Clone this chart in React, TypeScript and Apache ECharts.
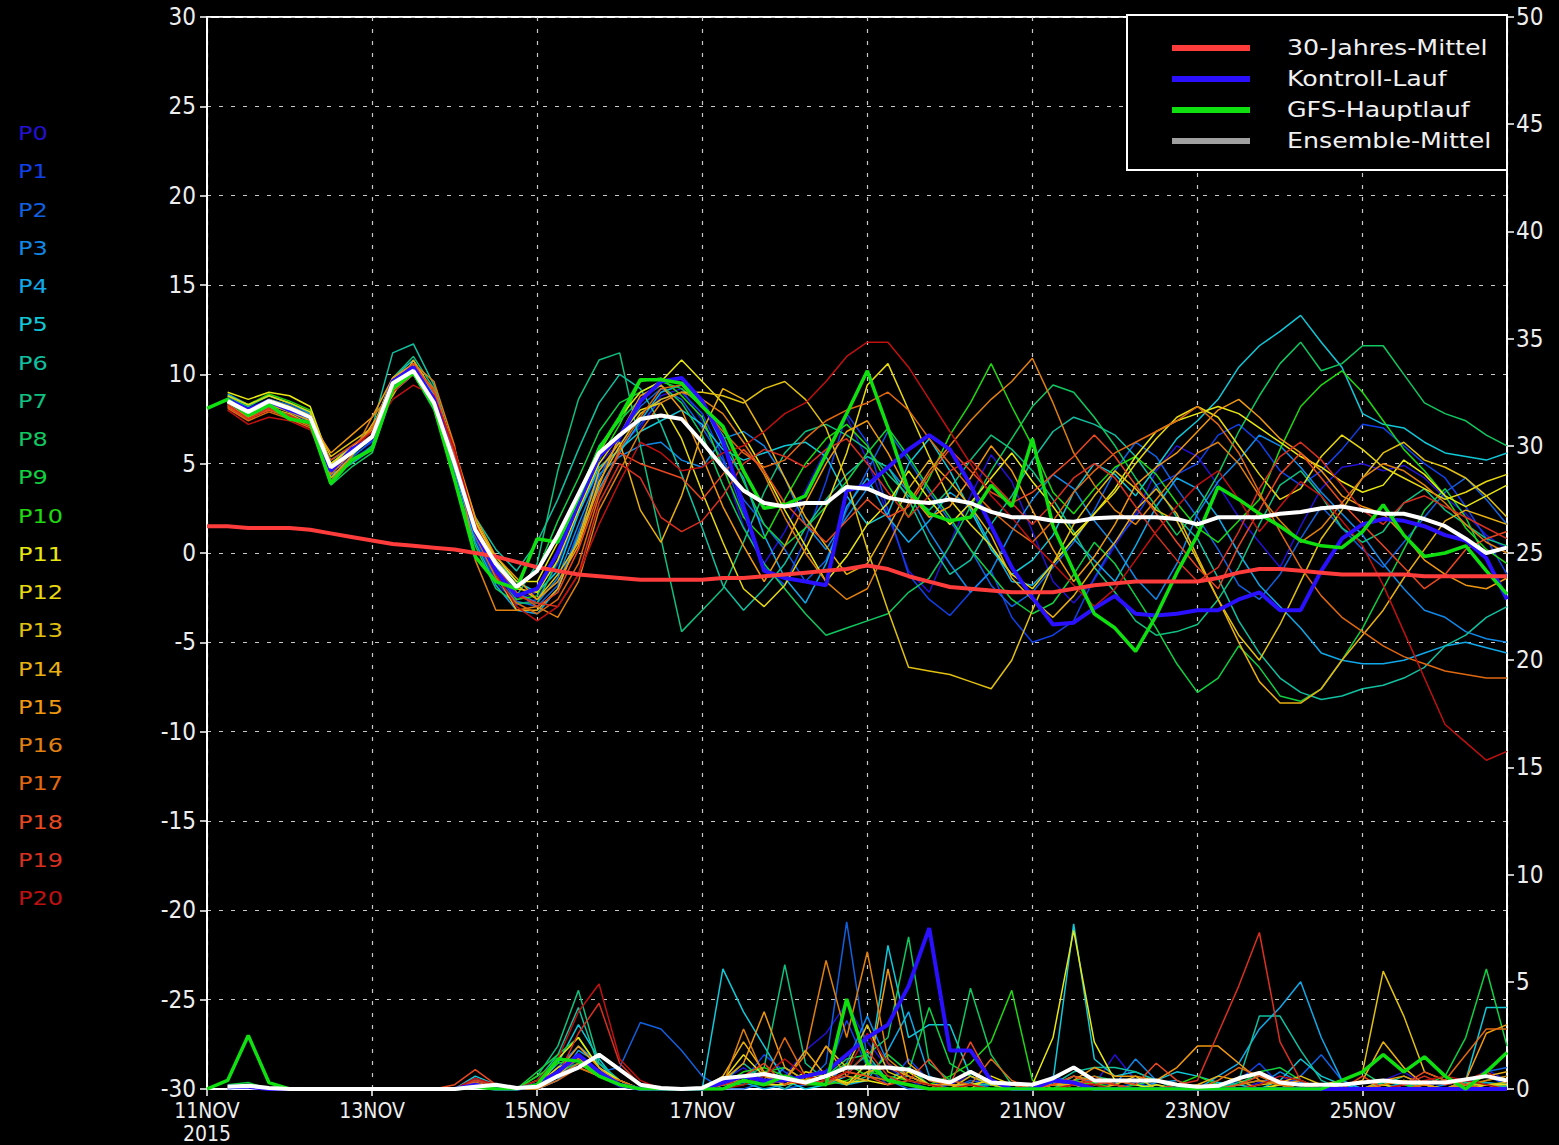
import React, { useEffect, useRef } from "react";
import * as echarts from "echarts";

// ---------- axis / label data ----------
const DATE_LABELS = ["11NOV", "13NOV", "15NOV", "17NOV", "19NOV", "21NOV", "23NOV", "25NOV"];
const YEAR_LABEL = "2015";
const MEMBER_NAMES = ["P0","P1","P2","P3","P4","P5","P6","P7","P8","P9","P10","P11","P12","P13","P14","P15","P16","P17","P18","P19","P20"];
const MEMBER_COLORS = ["#2410d0","#1040e8","#1060e0","#1088e8","#10a8e8","#10c8d8","#10c0a0","#10c080","#10c860","#10d040","#20d810","#e8e810","#e8d810","#e0c010","#e8b010","#f09810","#e08010","#e06810","#e84820","#d83020","#c01010"];
const LEGEND_NAMES = ["30-Jahres-Mittel", "Kontroll-Lauf", "GFS-Hauptlauf", "Ensemble-Mittel"];
const LEGEND_COLORS = ["#ff3c3c", "#2a10ff", "#10e010", "#a0a0a0"];

// ---------- temperature (850 hPa, °C), 6-hourly ----------
// climatology from 11NOV 00z
const CLIM_T = [1.5,1.5,1.4,1.4, 1.4,1.3,1.1,0.9, 0.7,0.5,0.4,0.3, 0.2,0.0,-0.2,-0.5, -0.8,-1.0,-1.2,-1.3, -1.4,-1.5,-1.5,-1.5, -1.5,-1.4,-1.4,-1.3, -1.2,-1.1,-1.0,-0.9, -0.7,-0.9,-1.3,-1.6, -1.9,-2.0,-2.1,-2.2, -2.2,-2.2,-2.0,-1.8, -1.7,-1.6,-1.6,-1.6, -1.6,-1.4,-1.1,-0.9, -0.9,-1.0,-1.1,-1.2, -1.2,-1.2,-1.2,-1.3, -1.3,-1.3,-1.3,-1.3];
// GFS main run from 11NOV 00z
const GFS_T = [8.1,8.6,7.7,8.3, 7.5,7.3,3.9,5.2, 5.8,9.2,10.1,8.2, 4.1,-0.2,-1.6,-2.0, 0.8,0.6,3.1,5.8, 7.6,9.7,9.7,9.5, 8.2,7.1,4.6,2.5, 2.7,3.2,5.5,7.8, 10.2,7.0,3.5,2.2, 1.8,2.0,3.8,2.6, 6.4,1.5,-1.0,-3.4, -4.2,-5.5,-3.5,-1.1, 1.0,3.7,3.0,2.2, 1.5,0.7,0.4,0.3, 1.2,2.7,1.0,-0.2, 0.0,0.4,-1.0,-2.3];
// ensemble runs from 11NOV 06z
const CTRL_T = [8.6,8.0,8.5, 8.0,7.6,4.6,5.8, 6.4,9.6,10.4,8.6, 5.0,1.2,-1.0,-2.4, -2.0,0.0,2.8,5.4, 6.5,8.5,9.6,9.8, 8.5,6.3,2.6,-1.0, -1.4,-1.6,-1.8,3.5, 3.8,4.8,5.8,6.6, 5.8,3.8,1.5,-0.8, -2.5,-4.0,-3.9,-3.1, -2.4,-3.4,-3.5,-3.4, -3.2,-3.2,-2.6,-2.2, -3.2,-3.2,-1.0,0.8, 1.6,1.9,1.8,1.5, 1.0,0.7,-0.3,-2.6];
const MEAN_T = [8.5,7.9,8.5, 8.1,7.6,4.8,5.6, 6.5,9.5,10.2,8.4, 5.0,1.3,-0.6,-1.9, -1.0,1.0,3.3,5.6, 6.6,7.5,7.7,7.5, 6.2,4.8,3.5,2.8, 2.6,2.8,2.8,3.7, 3.6,3.1,2.9,2.8, 3.0,2.8,2.3,2.0, 2.0,1.8,1.75,1.95, 2.0,2.0,2.0,1.9, 1.6,2.0,2.0,2.0, 2.2,2.3,2.5,2.6, 2.4,2.2,2.2,1.9, 1.5,0.8,0.0,0.3];
const T_P0 = [8.7,8.1,8.6, 8.2,7.8,4.6,5.4, 6.2,9.3,10.4,8.8, 5.2,1.0,-1.2,-2.6, -2.2,0.2,2.6,5.0, 6.2,7.0,8.8,9.2, 7.4,5.0,1.5,-0.6, 1.2,3.5,5.8,7.6, 5.2,2.1,-1.0,-2.2, 0.5,3.2,5.5,4.0, 1.2,-1.6,-2.8,-1.5, 0.4,2.2,4.6,6.0, 5.4,3.8,2.0,0.6, -0.8,1.5,3.6,4.8, 5.0,4.6,4.9,4.2, 3.1,2.2,1.0,0.2];
const T_P1 = [8.4,7.7,8.3, 7.9,7.3,4.3,5.2, 6.0,9.0,10.0,8.3, 4.8,0.8,-1.6,-2.9, -2.6,-0.6,2.2,4.6, 5.8,7.2,8.6,9.0, 7.8,5.4,2.2,-0.8, -1.8,0.8,4.0,7.8, 6.2,2.4,-1.2,-2.6, -3.5,-2.2,-1.0,-3.6, -5.0,-4.6,-3.8,-1.4, 0.6,2.0,3.8,4.4, 5.0,6.6,7.2,6.2, 4.6,3.8,4.6,5.8, 7.2,7.0,6.0,5.0, 4.2,2.6,0.8,-1.2];
const T_P2 = [8.6,8.0,8.6, 8.3,7.7,4.5,5.3, 6.3,9.6,10.6,8.6, 5.0,0.9,-1.4,-2.7, -3.0,-1.8,1.2,4.2, 6.4,8.2,9.2,8.6, 7.0,5.2,3.0,1.6, 0.2,-1.6,-0.4,2.4, 4.6,6.8,5.2,3.4, 1.8,0.2,-1.8,-3.0, -2.2,-0.8,0.6,2.4, 4.6,6.2,5.4,3.6, 2.0,0.2,-1.8,-2.6, -1.2,0.8,2.6,1.4, 0.2,-0.8,0.6,2.0, 3.4,4.2,3.0,1.6];
const T_P3 = [8.4,7.8,8.4, 8.0,7.5,4.9,5.8, 6.6,9.4,10.2,8.5, 5.3,1.6,-0.8,-2.2, -2.8,-1.4,1.6,4.4, 5.4,6.0,6.2,5.2, 4.8,6.4,6.8,6.0, 4.2,1.6,0.2,2.0, 3.6,4.8,3.4,1.2, -0.6,-2.2,-1.0,1.2, 3.0,4.4,3.6,1.8, 0.4,-1.4,-2.6,-0.6, 2.2,4.0,5.2,6.6, 6.0,4.8,3.4,2.2, 1.0,-0.6,-2.0,-3.2, -3.6,-4.4,-4.8,-5.0];
const T_P4 = [8.9,8.3,8.8, 8.4,7.8,4.4,5.0, 5.8,9.0,10.0,8.2, 4.6,0.6,-1.8,-3.2, -3.4,-2.0,1.0,3.6, 5.6,7.4,9.0,9.4, 8.4,6.0,4.2,1.0, -1.4,-2.8,-0.6,2.6, 4.2,2.0,0.6,1.8, 3.4,2.6,0.4,-1.6, -1.8,-0.6,0.8,-0.4, -1.6,0.4,2.6,4.2, 3.6,2.0,0.0,-1.8, -3.0,-4.2,-5.6,-6.0, -6.2,-6.2,-6.0,-5.6, -5.2,-5.0,-5.3,-5.6];
const T_P5 = [8.5,7.9,8.4, 8.0,7.5,5.0,5.9, 6.8,9.8,10.8,8.8, 5.4,1.8,-0.4,-1.6, -2.2,-1.0,2.2,4.8, 5.8,6.8,7.4,8.0, 7.2,5.8,5.2,5.6, 6.0,6.2,5.4,3.2, 1.6,2.2,5.0,6.4, 4.6,2.4,0.2,-1.2, -0.4,1.0,3.4,5.0, 4.4,3.2,4.8,6.4, 7.4,8.6,10.4,11.6, 12.4,13.3,11.8,10.4, 7.8,7.2,7.0,6.2, 5.6,5.4,5.2,5.6];
const T_P6 = [8.4,7.8,8.4, 7.9,7.4,5.2,5.9, 7.0,11.2,11.7,9.4, 5.6,2.0,0.2,-1.0, 0.6,3.0,5.8,8.4, 10.0,9.2,7.2,4.4, 1.4,-1.8,-3.2,-2.0, -0.6,1.4,3.0,4.4, 5.4,4.8,3.0,0.6, -1.2,-0.4,1.6,3.2, 5.2,6.8,7.6,7.2, 6.6,5.4,3.8,2.0, 0.8,-1.4,-3.8,-5.6, -7.0,-7.8,-8.2,-8.0, -7.6,-7.4,-7.0,-6.4, -5.2,-4.6,-3.6,-3.0];
const T_P7 = [8.7,8.2,8.8, 8.4,7.9,4.2,5.0, 6.0,9.8,11.0,9.2, 5.6,1.2,-1.0,-2.4, -0.6,4.6,8.6,10.8, 11.2,6.0,0.8,-4.4, -3.2,-2.0,0.6,3.4, 5.6,6.8,7.2,6.6, 5.8,4.4,3.2,2.4, 3.6,5.2,6.6,5.8, 4.6,3.0,1.2,-0.8, -2.2,-3.8,-4.6,-4.4, -4.0,-2.6,-0.8,1.6, 3.8,4.6,3.2,1.4, 0.6,1.2,2.8,3.6, 2.4,1.6,0.8,0.4];
const T_P8 = [8.3,7.6,8.2, 7.7,7.2,3.8,4.8, 5.6,9.0,10.0,8.0, 4.2,0.4,-2.0,-2.8, -2.8,-0.4,3.2,6.0, 7.4,8.6,9.4,8.4, 6.6,3.8,1.4,-0.6, -2.0,-3.4,-4.6,-4.2, -3.8,-3.4,-2.2,-1.4, 0.4,2.6,4.6,6.4, 8.2,9.4,9.0,7.6, 6.0,4.2,2.6,1.0, 2.4,4.4,6.8,8.8, 10.6,11.8,10.2,10.6, 11.6,11.6,10.0,8.4, 7.8,7.4,6.6,6.0];
const T_P9 = [8.6,8.0,8.5, 8.0,7.4,4.0,5.4, 6.6,9.6,10.4,8.6, 5.0,1.4,-0.8,-2.0, -1.0,1.8,4.2,6.8, 8.4,9.0,9.6,9.2, 8.2,6.6,4.0,1.6, 0.4,1.4,2.6,4.0, 5.6,7.0,5.4,3.6, 2.0,0.2,-1.2,-2.6, -3.4,-2.8,-1.2,0.6, -0.6,-2.4,-4.2,-6.2, -7.8,-7.0,-5.2,-6.4, -8.0,-8.3,-7.6,-6.0, -4.2,-2.0,0.2,2.4, 3.6,2.0,-0.4,-2.4];
const T_P10 = [8.8,8.3,8.9, 8.5,8.0,4.7,5.6, 6.4,9.2,10.0,8.2, 4.8,1.0,-1.0,-2.6, -2.4,0.0,2.8,5.2, 7.2,9.6,9.8,8.8, 7.6,4.8,2.0,0.8, 3.0,5.0,6.4,7.2, 6.0,3.8,2.0,4.2, 6.6,8.4,10.6,8.2, 6.0,3.4,2.2,3.6, 4.8,5.4,4.4,2.8, 1.4,0.6,1.8,3.0, 5.8,8.2,9.4,10.2, 9.0,7.4,5.8,4.6, 3.2,1.4,0.2,-0.6];
const T_P11 = [9.0,8.6,9.0, 8.8,8.2,5.0,5.8, 6.4,9.2,10.0,8.4, 5.0,1.6,-0.2,-1.6, -1.6,0.6,2.8,5.6, 7.6,9.0,9.6,10.8, 9.6,8.4,6.6,4.6, 2.4,0.4,-1.6,-0.2, 1.6,2.8,4.6,3.0, 1.6,2.8,4.2,5.6, 4.0,2.6,1.0,2.2, 3.6,5.4,6.8,7.4, 7.8,8.2,7.8,7.0, 6.2,5.4,4.8,4.0, 3.4,3.8,5.2,4.4, 3.2,2.6,3.2,3.8];
const T_P12 = [8.8,8.3,8.8, 8.4,7.9,5.0,5.9, 6.9,9.8,10.5,8.6, 5.4,1.8,-0.4,-2.0, -2.2,-0.4,2.4,5.0, 6.6,8.0,8.4,6.4, 3.4,0.6,-2.0,-3.0, -1.8,0.2,2.6,5.6, 9.4,10.6,8.0,5.4, 3.0,1.6,0.4,-1.2, -2.0,-0.6,0.8,2.2, 3.4,5.0,6.4,7.6, 8.2,7.6,6.0,4.4, 3.0,3.6,5.4,6.6, 5.8,4.8,4.2,3.6, 3.0,3.4,4.0,4.4];
const T_P13 = [8.5,7.9,8.6, 8.2,7.7,5.4,6.2, 7.0,9.6,10.2,8.6, 5.6,1.8,-0.4,-1.8, -2.6,-1.2,0.6,4.0, 6.0,7.8,8.6,9.0, 9.0,8.8,8.4,9.2, 9.6,8.6,7.0,4.0, 0.2,-3.2,-6.4,-6.6, -6.8,-7.2,-7.6,-6.0, -3.2,-0.6,1.6,3.2, 4.6,3.6,2.4,1.8, -0.4,-2.6,-4.6,-6.0, -4.0,-1.6,0.8,2.4, 4.2,5.6,6.2,5.2, 4.8,4.2,3.2,2.0];
const T_P14 = [8.2,7.5,8.1, 7.8,7.2,4.2,5.4, 7.2,8.8,10.8,9.0, 5.8,1.4,-1.2,-3.2, -3.2,-2.0,0.8,4.6, 6.2,2.4,0.6,3.2, 6.8,9.2,8.6,6.6, 4.2,2.0,0.4,-1.2, -0.6,1.4,3.6,5.2, 4.0,2.6,1.0,-1.4, -2.6,-3.6,-2.4,-0.8, 0.6,2.4,3.6,2.2, -0.2,-2.6,-5.0,-7.2, -8.4,-8.4,-7.6,-6.0, -4.6,-3.2,-1.4,0.2, 1.8,2.4,2.0,1.6];
const T_P15 = [8.4,7.8,8.3, 7.9,7.4,5.6,6.6, 7.6,9.8,10.6,9.0, 5.8,2.0,-0.2,-1.4, -2.6,-1.6,0.4,3.8, 6.6,8.8,9.4,8.0, 5.4,2.6,0.4,-1.6, 0.4,2.8,5.0,6.8, 7.4,5.6,3.4,2.0, 2.6,4.2,6.0,4.6, 2.4,0.2,-1.6,-0.2, 1.6,3.8,4.8,5.6, 6.8,8.0,8.6,7.6, 6.4,5.6,4.6,3.2, 2.6,2.2,1.0,-0.4, -1.2,-1.8,-2.0,-1.4];
const T_P16 = [8.3,7.6,8.0, 7.6,7.1,4.0,5.4, 7.6,9.0,10.6,9.6, 6.0,-0.4,-3.2,-3.2, -3.0,-3.6,-1.6,2.4, 4.6,6.8,8.4,9.0, 8.6,7.8,6.2,4.4, 2.0,0.0,-1.6,-2.6, -2.0,0.4,2.8,4.6, 6.0,7.4,8.6,9.6, 10.9,8.4,5.6,3.8, 2.4,1.6,3.0,4.4, 5.6,6.2,5.0,3.2, 1.8,0.6,1.4,2.8, 4.2,5.0,4.6,3.8, 2.8,1.6,0.6,0.0];
const T_P17 = [8.1,7.4,7.9, 7.5,7.0,4.4,5.6, 7.0,9.2,10.4,9.2, 5.6,1.0,-1.4,-2.8, -3.4,-2.6,-0.6,3.2, 5.8,7.6,9.2,9.4, 8.2,6.8,5.6,4.8, 5.2,6.4,7.4,8.0, 8.4,9.0,8.0,6.4, 5.0,3.6,2.4,1.4, 0.6,1.8,3.4,4.6, 5.6,6.2,6.8,7.4, 8.2,7.2,5.6,3.4, 1.2,-0.8,-2.4,-3.6, -4.4,-5.2,-5.8,-6.2, -6.6,-6.8,-7.0,-7.0];
const T_P18 = [8.2,7.5,8.0, 7.7,7.2,5.2,6.0, 6.8,9.4,10.6,9.0, 5.8,1.2,-1.0,-2.2, -3.0,-2.2,0.2,3.4, 5.6,5.0,4.6,4.2, 3.0,4.4,5.8,4.6, 2.8,1.6,0.6,1.8, 3.0,2.0,2.6,4.4, 5.8,4.6,3.4,2.8, 3.4,4.4,5.4,6.6, 5.4,3.8,2.2,0.6, -0.8,-2.0,0.4,2.4, 4.4,5.6,4.2,2.8, 1.6,0.4,-0.8,-2.0, -1.2,0.2,0.8,1.2];
const T_P19 = [8.3,7.5,8.1, 7.7,7.2,4.8,5.8, 6.6,9.0,10.0,8.8, 5.6,1.6,-0.6,-2.4, -2.8,-3.0,-1.2,2.8, 5.0,4.2,2.0,1.2, 1.8,3.2,5.0,5.8, 5.4,4.8,5.8,6.4, 5.0,3.4,2.0,3.2, 4.6,5.2,4.0,2.8, 1.6,2.8,4.2,5.0, 4.2,2.6,1.0,-0.4, -1.6,-0.8,1.2,3.6, 5.4,6.2,5.2,3.8, 2.4,1.6,2.8,3.2, 2.6,2.0,1.4,0.8];
const T_P20 = [8.0,7.2,7.6, 7.4,6.9,4.6,5.8, 6.8,8.6,9.4,8.8, 5.8,1.6,-1.2,-3.0, -3.8,-3.0,-1.2,1.6, 4.0,6.2,5.6,4.6, 4.8,5.6,6.0,6.8, 7.8,8.4,9.6,11.0, 11.8,11.8,10.4,8.6, 6.8,5.0,3.2,2.0, 0.6,-0.6,-1.8,-3.0, -2.0,-0.4,1.2,2.6, 3.8,4.6,3.0,1.2, 2.6,4.0,3.2,1.8, 0.4,-1.8,-4.4,-7.0, -9.6,-10.6,-11.6,-11.1];

// ---------- precipitation (mm / 6h), 6-hourly ----------
const GFS_R = [0,0.4,2.5,0.3, 0,0,0,0, 0,0,0,0, 0,0.1,0,0, 0.2,1.4,1.3,0.6, 0.2,0,0,0, 0,0,0.4,0.2, 0.6,0.3,0.2,4.2, 1.2,0.4,0.2,0, 0,0,0,0, 0,0,0,0, 0,0,0,0, 0,0,0,0, 0,0,0,0.4, 0.8,1.6,0.8,1.5, 0.6,0,0.8,1.7];
const CTRL_R = [0.1,0.1,0, 0,0,0,0, 0,0,0,0, 0,0.2,0,0, 0.2,0.8,1.6,0.8, 0.2,0,0,0, 0,0.3,0.6,0.4, 0.4,0.6,0.8,1.6, 2.4,3.0,4.8,7.5, 1.8,1.8,0.4,0, 0,0.4,0.3,0, 0,0,0,0, 0,0,0,0, 0,0,0,0, 0,0,0,0, 0,0,0,0];
const MEAN_R = [0.1,0.15,0.05, 0,0,0,0, 0,0,0,0, 0,0.1,0.2,0.05, 0.1,0.6,1.0,1.6, 0.9,0.2,0.05,0, 0.05,0.5,0.6,0.7, 0.5,0.3,0.6,1.0, 1.0,1.0,0.9,0.5, 0.3,0.8,0.3,0.25, 0.2,0.5,1.0,0.4, 0.4,0.4,0.4,0.2, 0.1,0.15,0.5,0.75, 0.3,0.2,0.2,0.2, 0.3,0.4,0.3,0.3, 0.3,0.45,0.6,0.4];
const R_P0 = [0.1,0.2,0, 0,0,0,0, 0,0,0,0, 0,0.3,0.1,0, 0.2,0.8,1.6,0.6, 0.1,0,0,0, 0,0.4,1.0,0.3, 0.6,1.8,2.6,4.0, 2.2,1.0,0.4,0, 0.2,0.6,0,0, 0,0,0.4,0.2, 1.6,0.4,0.2,0, 0,0,0,0.3, 0.6,0.2,0,0, 0,0.4,0.8,0.2, 0.3,0.2,0.9,0.4];
const R_P1 = [0.1,0.1,0, 0,0,0,0, 0,0,0,0, 0,0.2,0.1,0, 0,0.4,1.2,0.8, 0.2,0,0,0, 0,0.2,0.4,1.6, 0.8,0.2,0.6,3.2, 1.0,0.2,1.4,0.4, 0,0,0.2,0, 0,0.6,0.3,0, 0,0.3,0,0, 0,0,0.4,1.2, 0.2,0,0,0, 0,0.2,0.4,0, 0,0.3,0.6,0.2];
const R_P2 = [0,0.1,0, 0,0,0,0, 0,0,0,0, 0,0.2,0,0, 0.2,0.6,1.4,0.8, 1.0,3.1,2.8,1.8, 0.6,0,0,0.3, 0,0.2,1.2,7.8, 1.4,0.4,0,0, 0,0.4,0.2,0, 0,0,0.2,0, 0,0,0,0, 0,0.2,0,0, 0,0.6,1.6,0.4, 0,0.2,0,0, 0,0.2,0.8,1.0];
const R_P3 = [0.1,0.2,0, 0,0,0,0, 0,0,0,0, 0,0.4,0.2,0, 0.1,1.0,2.0,1.2, 0.2,0,0,0, 0,0.3,0.6,0.2, 1.0,0.4,0.2,1.2, 3.4,1.2,0.6,0.2, 0,0.3,0,0, 0,0.2,0.6,0.3, 0.2,1.4,0.4,0, 0,0.3,0,0.2, 0.8,0.3,0,0, 0,0,0.3,0, 0.2,0.4,0.2,0.1];
const R_P4 = [0.1,0.1,0, 0,0,0,0, 0,0,0,0, 0,0.5,0.1,0, 0,0.4,1.8,1.2, 0.4,0,0,0, 0,0.2,0.3,0, 0.2,0.6,0.4,0.2, 0.4,1.8,3.6,0.6, 0.2,0,0,0, 0,0.3,0.2,0, 0,0,0.3,0.4, 0,0.6,1.2,2.8, 3.8,5.0,2.4,0.4, 0,0,0.2,0, 0,0.2,0.3,0.2];
const R_P5 = [0.1,0.1,0, 0,0,0,0, 0,0,0,0, 0,0.6,0.2,0, 0.2,1.2,3.0,1.4, 0.2,0,0,0, 0,5.6,3.6,2.0, 0.4,0,0.2,0.6, 0.4,6.7,2.4,3.0, 3.0,0.6,0.2,0.2, 0.2,0.4,7.7,1.4, 0.6,0.8,0.4,0.8, 0.6,0.3,0.2,0, 0.4,1.4,0.6,0.2, 0,0.3,0.2,0, 0,0.4,3.8,3.8];
const R_P6 = [0.1,0.2,0, 0,0,0,0, 0,0,0,0, 0,0.3,0,0, 0.4,1.6,3.8,1.0, 0.2,0,0,0, 0,0.3,1.2,0.4, 0,0.6,0.2,0.8, 1.6,0.4,0.6,0.2, 0,0.2,0.2,0, 0,0.2,0.8,1.0, 1.0,0.8,0.4,0.2, 0,0.2,0.4,3.4, 3.4,1.8,0.4,0, 0,0,0.2,0.2, 0,0,0.2,0.1];
const R_P7 = [0.1,0.2,0, 0,0,0,0, 0,0,0,0, 0,0.2,0,0, 0.6,2.0,4.6,1.2, 0.4,0,0,0, 0,0.4,0.6,1.0, 5.8,1.2,0.4,0.2, 0.6,0.4,1.0,0.2, 0,0,0,0, 0,0,0.6,0.4, 0.2,0,0.2,0, 0,0,0.3,0.6, 0.2,0,0,0, 0,0.2,0.6,0.2, 0,0.3,0.2,0];
const R_P8 = [0.1,0.2,0, 0,0,0,0, 0,0,0,0, 0,0.2,0,0, 0.4,0.8,1.2,0.6, 0.2,0,0,0, 0,0.2,0.2,0.6, 0.2,0.4,0.6,1.4, 1.6,2.4,7.1,1.2, 0.4,4.7,1.6,0.2, 0,0.2,0.4,0.6, 0.4,0.2,0.4,0, 0,0,0.2,0.4, 0.2,0,0,0.4, 0.8,0.2,0,0, 0,0.2,0.2,0.3];
const R_P9 = [0.2,0.3,0, 0,0,0,0, 0,0,0,0, 0,0.2,0,0, 0.8,1.6,2.4,1.0, 0.2,0,0,0, 0,0.2,0.4,0.8, 1.0,0.4,0.6,1.2, 0.6,1.6,0.8,3.8, 1.2,0.6,0.2,0, 0,0,0.4,0.2, 0,0.2,0,0, 0,0,0.2,0.8, 1.0,0.4,0,0, 0,0,0,0.2, 0.6,2.4,5.6,2.0];
const R_P10 = [0.1,0.2,0, 0,0,0,0, 0,0,0,0, 0,0.1,0,0, 0.6,1.2,1.4,0.6, 0.2,0,0,0, 0,0.2,0.8,1.0, 0.6,0.2,0.2,0.4, 0.8,0.6,0.4,0.2, 0.6,1.2,2.2,4.6, 0.4,0,0.2,0.3, 0,0,0,0.2, 0.6,0.2,0,0, 0,0,0.2,0, 0,0.4,0.2,0, 0,0,0.4,0.6];
const R_P11 = [0.1,0.1,0, 0,0,0,0, 0,0,0,0, 0,0.1,0,0, 0,1.4,2.4,1.0, 0.4,0,0,0, 0,0.2,0.4,0.2, 0.2,0.8,0.6,0.3, 0.4,0.2,0.8,0.2, 0,0.2,0.4,0.2, 0.2,2.4,7.4,2.2, 0.4,0.2,0,0, 0,0,0,0, 0.2,0,0,0, 0,0.2,0.4,0.2, 0,0,0.2,0.2];
const R_P12 = [0.1,0.1,0, 0,0,0,0, 0,0,0,0, 0,0.2,0,0, 0.2,1.0,1.4,0.8, 0.2,0,0,0, 0,0.4,1.6,0.6, 0.2,0.4,0.8,0.2, 1.2,0.4,0.2,0, 0,0,0.6,0.2, 0,0,0.2,0, 0,0,0.2,0, 0,0,0,0, 0.2,0.2,0,0, 0,0.2,0,0, 0,0,0.2,0];
const R_P13 = [0.1,0.1,0, 0,0,0,0, 0,0,0,0, 0,0.2,0,0, 0,0.6,1.0,0.6, 0.2,0,0,0, 0,0,0.6,0.4, 0.6,0.4,2.0,1.0, 3.0,0.8,0.4,0.2, 0,0.6,0.2,0, 0,0.2,0.2,0.4, 0.2,0.6,0,0, 0,0,0,0.2, 0.3,0.6,0.2,0.4, 0.8,5.5,3.4,0.8, 0.4,0.2,0.2,0.3];
const R_P14 = [0.1,0.1,0, 0,0,0,0, 0,0,0,0, 0,0.2,0,0, 0.2,0.6,1.6,0.8, 0.4,0,0,0, 0,0.6,2.2,0.8, 0.4,1.8,0.6,0.2, 0.8,1.0,0.6,0.2, 0.2,0.2,0,0, 0,0.2,0.2,0, 0.2,0,0,0, 0.2,0.6,0.4,0, 0,0,0,0.2, 0.4,2.2,1.0,0.2, 0,0.2,0.6,0.8];
const R_P15 = [0.1,0.1,0, 0,0,0,0, 0,0,0,0, 0,0.3,0,0, 0.2,0.8,2.0,1.0, 0.2,0,0,0, 0,0.4,1.2,3.6, 1.0,0.4,2.0,0.6, 0.4,5.6,1.2,0.4, 0.2,0,0,0, 0,0.2,0.4,1.0, 0.6,0.6,0.4,1.0, 2.0,2.0,1.2,0.4, 0.2,0.4,0,0, 0,0.4,0.6,0.2, 0,0.4,2.6,3.0];
const R_P16 = [0.1,0.2,0, 0,0,0,0, 0,0,0,0, 0,0.4,0.2,0, 0.2,0.6,1.2,0.6, 0.2,0,0,0, 0,0.2,2.8,0.6, 0.4,1.6,6.0,2.4, 6.4,1.4,0.6,0.2, 0,0.2,0,0, 0,0.2,0.6,0.4, 0.2,0,0,0, 0,0,0.2,0.4, 0.2,0,0,0, 0,0.2,0.4,0, 0,0.2,0.4,0.6];
const R_P17 = [0.1,0.2,0, 0,0,0,0, 0,0,0,0, 0,0.3,0.1,0, 0,0.4,1.0,0.6, 0.4,0,0,0, 0,0.2,0.6,0.4, 2.4,0.6,0.2,0.8, 0.6,0.4,0.2,0, 0.4,0.2,1.4,0.4, 0,0,0.2,0.6, 0.2,0,0,0, 0,0.4,1.0,0.6, 0.2,0,0,0, 0,0,0,0.2, 0.4,1.6,2.8,2.8];
const R_P18 = [0.1,0.2,0, 0,0,0,0, 0,0,0,0, 0.2,0.9,0.2,0, 0.4,0.8,1.4,0.6, 0.2,0,0,0, 0,0.2,0.6,1.2, 0.2,0.6,0.4,0.8, 0.6,0.2,0.4,1.4, 0.2,2.2,0.4,0.2, 0,0.2,0.6,0.2, 0.4,0.2,1.2,0.4, 0,0,0.2,0.6, 0.4,0.2,0,0, 0.6,0,0.2,0.8, 0.4,0.2,0,0];
const R_P19 = [0.1,0.2,0, 0,0,0,0, 0,0,0,0, 0,0.4,0.2,0, 0.2,0.6,2.6,4.0, 1.2,0.2,0,0, 0,0.2,0.4,0.2, 0.4,0.2,0.4,0.6, 1.8,0.6,0.2,0, 0,0,0,0, 0,0,0.2,0.4, 0.2,0,0,0.2, 0.4,2.6,4.8,7.3, 2.2,0.4,0,0, 0,0,0.2,0.6, 0.2,0.4,0.8,0.3];
const R_P20 = [0.1,0.2,0, 0,0,0,0, 0,0,0,0, 0,0.5,0.2,0, 0.4,1.4,3.6,4.9, 1.4,0.4,0,0, 0,0,0.2,0.6, 1.4,0.6,0.4,0.8, 2.6,1.2,0.4,0.2, 0,0.2,0,0, 0,0,0.2,0.2, 0,0,0,0, 0,0,0,0.2, 0.6,0.4,0,0, 0,0,0.2,0.4, 0.6,0.4,0.2,0];

const MEMBERS_T = [T_P0,T_P1,T_P2,T_P3,T_P4,T_P5,T_P6,T_P7,T_P8,T_P9,T_P10,T_P11,T_P12,T_P13,T_P14,T_P15,T_P16,T_P17,T_P18,T_P19,T_P20];
const MEMBERS_R = [R_P0,R_P1,R_P2,R_P3,R_P4,R_P5,R_P6,R_P7,R_P8,R_P9,R_P10,R_P11,R_P12,R_P13,R_P14,R_P15,R_P16,R_P17,R_P18,R_P19,R_P20];

const STEP_H = 6;
const toPairs = (arr: number[], startIdx: number) => arr.map((v, k) => [(startIdx + k) * STEP_H, v]);

const FONT = "'DejaVu Sans Condensed', 'DejaVu Sans', sans-serif";
const FONT_WIDE = "'DejaVu Sans', sans-serif";

export default function App() {
  const ref = useRef<HTMLDivElement>(null);
  useEffect(() => {
    if (!ref.current) return;
    const chart = echarts.init(ref.current, null, { renderer: "svg" });

    const series: any[] = [];
    MEMBERS_T.forEach((arr, m) => {
      series.push({
        name: MEMBER_NAMES[m] + " T", type: "line", xAxisIndex: 0, yAxisIndex: 0,
        data: toPairs(arr, 1), symbol: "none", silent: true, z: 2,
        lineStyle: { width: 1.5, color: MEMBER_COLORS[m] },
      });
    });
    MEMBERS_R.forEach((arr, m) => {
      series.push({
        name: MEMBER_NAMES[m] + " R", type: "line", xAxisIndex: 0, yAxisIndex: 1,
        data: toPairs(arr, 1), symbol: "none", silent: true, z: 2,
        lineStyle: { width: 1.5, color: MEMBER_COLORS[m] },
      });
    });
    const thick = (name: string, data: any[], color: string, yi: number, width: number, z: number) => ({
      name, type: "line", xAxisIndex: 0, yAxisIndex: yi, data, symbol: "none", silent: true, z,
      lineStyle: { width, color },
    });
    series.push(thick("Kontroll-Lauf T", toPairs(CTRL_T, 1), "#2a10ff", 0, 4, 3));
    series.push(thick("Kontroll-Lauf R", toPairs(CTRL_R, 1), "#2a10ff", 1, 4, 3));
    series.push(thick("GFS-Hauptlauf T", toPairs(GFS_T, 0), "#10e010", 0, 3.5, 4));
    series.push(thick("GFS-Hauptlauf R", toPairs(GFS_R, 0), "#10e010", 1, 3.5, 4));
    series.push(thick("30-Jahres-Mittel", toPairs(CLIM_T, 0), "#ff3c3c", 0, 4, 5));
    series.push(thick("Ensemble-Mittel T", toPairs(MEAN_T, 1), "#ffffff", 0, 4, 6));
    series.push(thick("Ensemble-Mittel R", toPairs(MEAN_R, 1), "#ffffff", 1, 4, 6));

    const graphic: any[] = [];
    MEMBER_NAMES.forEach((n, m) => {
      graphic.push({
        type: "text", x: 18, y: 133 + m * 38.25, scaleX: 1.2, silent: true,
        style: { text: n, fill: MEMBER_COLORS[m], font: `20px ${FONT_WIDE}`, verticalAlign: "middle", textAlign: "left" },
      });
    });
    graphic.push({
      type: "rect", shape: { x: 1127, y: 15, width: 380, height: 155 }, z: 10,
      style: { fill: "#000", stroke: "#fff", lineWidth: 2 },
    });
    LEGEND_NAMES.forEach((n, k) => {
      const y = 48 + k * 31;
      graphic.push({
        type: "line", z: 11, shape: { x1: 1172, y1: y, x2: 1250, y2: y },
        style: { stroke: LEGEND_COLORS[k], lineWidth: 6 },
      });
      graphic.push({
        type: "text", z: 11, x: 1287, y, scaleX: 1.15,
        style: { text: n, fill: "#f0f0f0", font: `22px ${FONT_WIDE}`, verticalAlign: "middle", textAlign: "left" },
      });
    });

    chart.setOption({
      animation: false,
      backgroundColor: "#000",
      grid: { left: 207, right: 52, top: 17, bottom: 56, show: true, borderColor: "#fff", borderWidth: 2 },
      xAxis: {
        type: "value", min: 0, max: 378, interval: 48,
        axisLine: { show: true, onZero: false, lineStyle: { color: "#fff", width: 2 } },
        axisTick: { show: true, length: 7, lineStyle: { color: "#fff", width: 1.5 } },
        splitLine: { show: true, lineStyle: { color: "#c8c8c8", width: 1.2, type: [4, 8] } },
        axisLabel: {
          color: "#eeeeee", fontFamily: FONT, fontSize: 21, margin: 10, lineHeight: 23,
          showMaxLabel: false,
          formatter: (v: number) => {
            if (v % 48 !== 0) return "";
            const idx = v / 48;
            if (idx >= DATE_LABELS.length) return "";
            return idx === 0 ? DATE_LABELS[0] + "\n" + YEAR_LABEL : DATE_LABELS[idx];
          },
        },
      },
      yAxis: [
        {
          type: "value", min: -30, max: 30, interval: 5, position: "left",
          axisLine: { show: true, onZero: false, lineStyle: { color: "#fff", width: 2 } },
          axisTick: { show: true, length: 7, lineStyle: { color: "#fff", width: 1.5 } },
          splitLine: { show: true, lineStyle: { color: "#c8c8c8", width: 1.2, type: [4, 8] } },
          axisLabel: { color: "#eeeeee", fontFamily: FONT, fontSize: 24, margin: 11 },
        },
        {
          type: "value", min: 0, max: 50, interval: 5, position: "right",
          axisLine: { show: true, onZero: false, lineStyle: { color: "#fff", width: 2 } },
          axisTick: { show: true, length: 7, lineStyle: { color: "#fff", width: 1.5 } },
          splitLine: { show: false },
          axisLabel: { color: "#eeeeee", fontFamily: FONT, fontSize: 24, margin: 9 },
        },
      ],
      series,
      graphic,
    });
    return () => chart.dispose();
  }, []);
  return (
    <div
      ref={ref}
      style={{ position: "absolute", left: 0, top: 0, width: 1559, height: 1145, background: "#000" }}
    />
  );
}
